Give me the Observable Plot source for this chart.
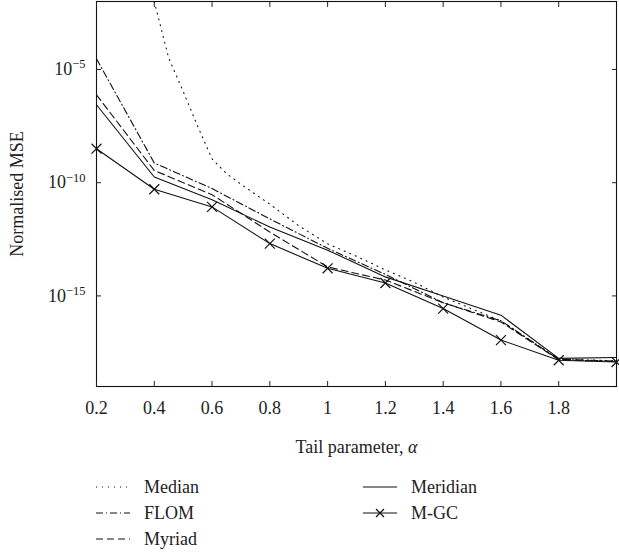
<!DOCTYPE html>
<html><head><meta charset="utf-8">
<script src="https://cdn.jsdelivr.net/npm/d3@7"></script>
<script src="https://cdn.jsdelivr.net/npm/@observablehq/plot@0.6"></script>
<style>
body{margin:0;background:#fff;font-family:"Liberation Serif","DejaVu Serif",serif;color:#222;}
#legend{position:relative;width:619px;height:92px;font-size:18px;}
.item{position:absolute;display:flex;align-items:center;height:24px;}
.item svg{margin-right:14px;}
</style></head><body>
<div id="chart"></div>
<div id="legend"></div>
<script>
// ---- data (values stored as base-10 exponents of the normalised MSE) ----
const alpha = [0.2, 0.4, 0.6, 0.8, 1.0, 1.2, 1.4, 1.6, 1.8, 2.0];
const medianAlpha = [0.4, 0.45, 0.5, 0.55, 0.6, 0.65, 0.7, 0.8, 0.9, 1.0, 1.1, 1.2, 1.3, 1.4, 1.6, 1.8, 2.0];
const medianExp   = [-2.0, -4.5, -5.97, -7.5, -8.95, -9.6, -10.07, -10.95, -11.9, -12.7, -13.25, -13.85, -14.4, -15.05, -16.1, -17.8, -17.86];
const flomExp     = [-4.53, -9.13, -10.26, -11.6, -12.9, -14.05, -15.3, -16.1, -17.8, -17.88];
const myriadExp   = [-6.12, -9.46, -10.53, -12.18, -13.72, -14.3, -15.3, -16.15, -17.82, -17.9];
const meridianExp = [-6.56, -9.75, -10.75, -11.96, -12.98, -14.16, -15.0, -15.85, -17.76, -17.72];
const mgcExp      = [-8.5, -10.29, -11.07, -12.69, -13.78, -14.43, -15.56, -16.95, -17.84, -17.92];
const xTicks = [0.2, 0.4, 0.6, 0.8, 1.0, 1.2, 1.4, 1.6, 1.8];
const xTickLabels = ["0.2", "0.4", "0.6", "0.8", "1", "1.2", "1.4", "1.6", "1.8"];
const yTicks = [1e-5, 1e-10, 1e-15];
const yTickExps = ["−5", "−10", "−15"];
const seriesNames = ["Median", "FLOM", "Myriad", "Meridian", "M-GC"];

const toRows = (xs, es) => xs.map((a, i) => ({alpha: a, mse: Math.pow(10, es[i])}));
const median = toRows(medianAlpha, medianExp);
const flom = toRows(alpha, flomExp);
const myriad = toRows(alpha, myriadExp);
const meridian = toRows(alpha, meridianExp);
const mgc = toRows(alpha, mgcExp);

const xLabelOf = d => xTickLabels[xTicks.findIndex(t => Math.abs(t - d) < 1e-9)] ?? "";
const yLabelOf = d => {
  const i = yTicks.findIndex(t => Math.abs(Math.log10(t) - Math.log10(d)) < 1e-6);
  return i < 0 ? "" : "10^" + yTickExps[i];
};

const W = 619, H = 458;
const line = (data, dash) => Plot.line(data, {x: "alpha", y: "mse", stroke: "#111", strokeWidth: 1.1, strokeDasharray: dash, clip: true});

const chart = Plot.plot({
  width: W, height: H,
  marginLeft: 96, marginRight: 3, marginTop: 1, marginBottom: H - 386,
  style: {fontFamily: "Liberation Serif, DejaVu Serif, serif", fontSize: "18px", color: "#222", background: "#fff"},
  x: {domain: [0.2, 2.0]},
  y: {type: "log", domain: [1e-19, 1e-2]},
  marks: [
    Plot.frame({stroke: "#111", strokeWidth: 1.1}),
    Plot.axisX(xTicks, {anchor: "bottom", tickSize: -5, tickPadding: 5 + 15, tickFormat: xLabelOf,
      label: "Tail parameter, α", labelAnchor: "center", labelOffset: 66, labelArrow: "none"}),
    Plot.axisX(xTicks, {anchor: "top", tickSize: -5, tickFormat: () => "", label: null}),
    Plot.axisY(yTicks, {anchor: "left", tickSize: -5, tickPadding: 5 + 11, tickFormat: yLabelOf,
      label: "Normalised MSE", labelAnchor: "center", labelOffset: 86, labelArrow: "none"}),
    Plot.axisY(yTicks, {anchor: "right", tickSize: -5, tickFormat: () => "", label: null}),
    line(median, "1,5"),
    line(flom, "7,3,1,3"),
    line(myriad, "7,4"),
    line(meridian, null),
    line(mgc, null),
    Plot.dot(mgc, {x: "alpha", y: "mse", symbol: "times", r: 4.6, stroke: "#111", strokeWidth: 1.2})
  ]
});
document.getElementById("chart").appendChild(chart);

// superscript exponents on y tick labels
const NS = "http://www.w3.org/2000/svg";
chart.querySelectorAll('[aria-label="y-axis tick label"] text').forEach(t => {
  const s = t.textContent;
  if (!s || s.indexOf("^") < 0) return;
  const [base, exp] = s.split("^");
  t.textContent = "";
  const a = document.createElementNS(NS, "tspan"); a.textContent = base; t.appendChild(a);
  const b = document.createElementNS(NS, "tspan"); b.textContent = exp;
  b.setAttribute("dy", "-0.55em"); b.setAttribute("font-size", "12.5px"); t.appendChild(b);
});
// italic alpha in the x label
chart.querySelectorAll('[aria-label="x-axis label"] text').forEach(t => {
  const s = t.textContent;
  const k = s.indexOf("α");
  if (k < 0) return;
  t.textContent = "";
  const a = document.createElementNS(NS, "tspan"); a.textContent = s.slice(0, k); t.appendChild(a);
  const b = document.createElementNS(NS, "tspan"); b.textContent = "α"; b.setAttribute("font-style", "italic"); t.appendChild(b);
});

// legend
const legend = document.getElementById("legend");
const styles = {
  "Median": {dash: "1,5", marker: false},
  "FLOM": {dash: "7,3,1,3", marker: false},
  "Myriad": {dash: "7,4", marker: false},
  "Meridian": {dash: null, marker: false},
  "M-GC": {dash: null, marker: true}
};
const pos = {
  "Median": [96, 17], "FLOM": [96, 43], "Myriad": [96, 69],
  "Meridian": [363, 17], "M-GC": [363, 43]
};
seriesNames.forEach(name => {
  const st = styles[name], p = pos[name];
  const div = document.createElement("div");
  div.className = "item";
  div.style.left = p[0] + "px"; div.style.top = p[1] + "px";
  let sw = `<svg width="34" height="14"><line x1="0" y1="7" x2="34" y2="7" stroke="#111" stroke-width="1.1"${st.dash ? ` stroke-dasharray="${st.dash}"` : ""}/>`;
  if (st.marker) sw += `<path d="M13,3L21,11M13,11L21,3" stroke="#111" stroke-width="1.2"/>`;
  sw += `</svg>`;
  div.innerHTML = sw + `<span>${name}</span>`;
  legend.appendChild(div);
});
</script>
</body></html>
